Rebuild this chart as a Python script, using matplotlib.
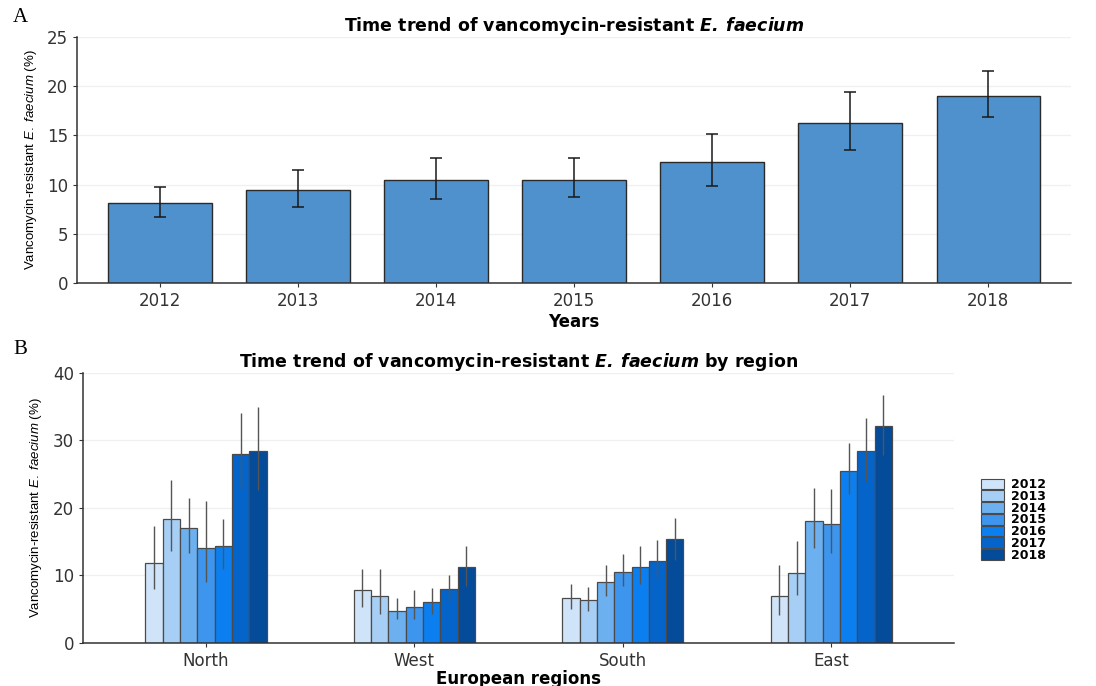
import numpy as np
import matplotlib
matplotlib.use("Agg")
import matplotlib.pyplot as plt
from matplotlib.patches import Patch

plt.rcParams['font.family'] = ['DejaVu Sans']
plt.rcParams['mathtext.fontset'] = 'custom'
plt.rcParams['mathtext.rm'] = 'Liberation Sans'
plt.rcParams['mathtext.it'] = 'Liberation Sans:italic'
plt.rcParams['mathtext.bf'] = 'DejaVu Sans:bold'
plt.rcParams['mathtext.bfit'] = 'DejaVu Sans:italic:bold'

# Panel A: overall trend
years = ['2012', '2013', '2014', '2015', '2016', '2017', '2018']
overall = [8.1, 9.45, 10.5, 10.5, 12.3, 16.3, 19.0]
overall_lo = [6.7, 7.7, 8.5, 8.7, 9.9, 13.5, 16.9]
overall_hi = [9.75, 11.5, 12.7, 12.7, 15.1, 19.4, 21.5]

# Panel B: by region
regions = ['North', 'West', 'South', 'East']
by_region = {
    '2012': [11.9, 7.8, 6.7, 7.0],
    '2013': [18.4, 7.0, 6.3, 10.4],
    '2014': [17.0, 4.7, 9.0, 18.1],
    '2015': [14.0, 5.4, 10.5, 17.6],
    '2016': [14.3, 6.0, 11.3, 25.5],
    '2017': [28.0, 8.0, 12.2, 28.4],
    '2018': [28.4, 11.3, 15.4, 32.1],
}
region_lo = {
    '2012': [8.0, 5.4, 5.0, 4.2],
    '2013': [13.7, 4.3, 4.7, 7.1],
    '2014': [13.3, 3.5, 6.9, 14.0],
    '2015': [9.0, 3.6, 8.4, 13.4],
    '2016': [11.0, 4.3, 8.8, 22.0],
    '2017': [22.8, 6.3, 9.6, 24.0],
    '2018': [22.7, 8.4, 12.3, 27.8],
}
region_hi = {
    '2012': [17.3, 11.0, 8.7, 11.5],
    '2013': [24.2, 10.9, 8.3, 15.1],
    '2014': [21.5, 6.6, 11.6, 23.0],
    '2015': [21.0, 7.9, 13.2, 22.8],
    '2016': [18.4, 8.2, 14.4, 29.6],
    '2017': [34.1, 10.0, 15.2, 33.4],
    '2018': [34.9, 14.3, 18.5, 36.8],
}
year_colors = ['#cfe4f8', '#a7cff5', '#6cb0f0', '#3d95ee', '#0b7ff0', '#0564c9', '#044b99']

ylab = r'Vancomycin-resistant $E.$ $faecium$ (%)'

fig = plt.figure(figsize=(10.96, 6.86), dpi=100)


def style_axis(ax):
    for s in ['top', 'right']:
        ax.spines[s].set_visible(False)
    for s in ['left', 'bottom']:
        ax.spines[s].set_color('#333333')
        ax.spines[s].set_linewidth(1.1)
    ax.yaxis.grid(True, color='#f0f0f0', linewidth=1)
    ax.set_axisbelow(True)
    ax.tick_params(colors='#333333', length=3, width=0.8, labelsize=12)


# ---- A ----
axA = fig.add_axes([0.0703, 0.5875, 0.907, 0.3586])
xa = np.arange(len(years))
ov = np.array(overall)
yerr = [ov - np.array(overall_lo), np.array(overall_hi) - ov]
axA.bar(xa, ov, width=0.75, color='#4f91cd', edgecolor='#2a2a2a', linewidth=1.0)
axA.errorbar(xa, ov, yerr=yerr, fmt='none', ecolor='#1a1a1a', elinewidth=1.1, capsize=4, capthick=1.1)
axA.set_xlim(-0.6, len(years) - 0.4)
axA.set_ylim(0, 25)
axA.set_yticks([0, 5, 10, 15, 20, 25])
axA.set_xticks(xa)
axA.set_xticklabels(years)
style_axis(axA)
axA.set_xlabel('Years', fontweight='bold', fontsize=12, labelpad=2)
axA.set_ylabel(ylab, fontsize=9.5, family='Liberation Sans', labelpad=6)
axA.set_title(r'Time trend of vancomycin-resistant $\mathbfit{E.\ faecium}$', fontweight='bold', fontsize=12.5, pad=4)

# ---- B ----
axB = fig.add_axes([0.0757, 0.0627, 0.795, 0.3936])
xb = np.arange(len(regions))
w = 0.083
for i, yr in enumerate(years):
    vals = np.array(by_region[yr])
    lo = np.array(region_lo[yr])
    hi = np.array(region_hi[yr])
    pos = xb + (i - 3) * w
    axB.bar(pos, vals, width=w, color=year_colors[i], edgecolor='#4a4a4a', linewidth=0.9, label=yr)
    axB.errorbar(pos, vals, yerr=[vals - lo, hi - vals], fmt='none', ecolor='#555555', elinewidth=1.0, capsize=0)
axB.set_xlim(-0.59, len(regions) - 0.41)
axB.set_ylim(0, 40)
axB.set_yticks([0, 10, 20, 30, 40])
axB.set_xticks(xb)
axB.set_xticklabels(regions)
style_axis(axB)
axB.set_xlabel('European regions', fontweight='bold', fontsize=12, labelpad=0)
axB.set_ylabel(ylab, fontsize=9.5, family='Liberation Sans', labelpad=6)
axB.set_title(r'Time trend of vancomycin-resistant $\mathbfit{E.\ faecium}$ by region', fontweight='bold', fontsize=12.5, pad=3)

handles = [Patch(facecolor=c, edgecolor='#4a4a4a', linewidth=0.8) for c in year_colors]
fig.legend(handles, years, loc='center left', bbox_to_anchor=(0.889, 0.242), frameon=False,
           prop={'weight': 'bold', 'size': 9}, labelspacing=-0.1, handlelength=1.9, handleheight=0.95,
           handletextpad=0.5, borderpad=0)

fig.text(0.012, 0.975, 'A', fontsize=15, family='Liberation Serif', va='center')
fig.text(0.012, 0.49, 'B', fontsize=15, family='Liberation Serif', va='center')

fig.savefig('out.png', dpi=100)
